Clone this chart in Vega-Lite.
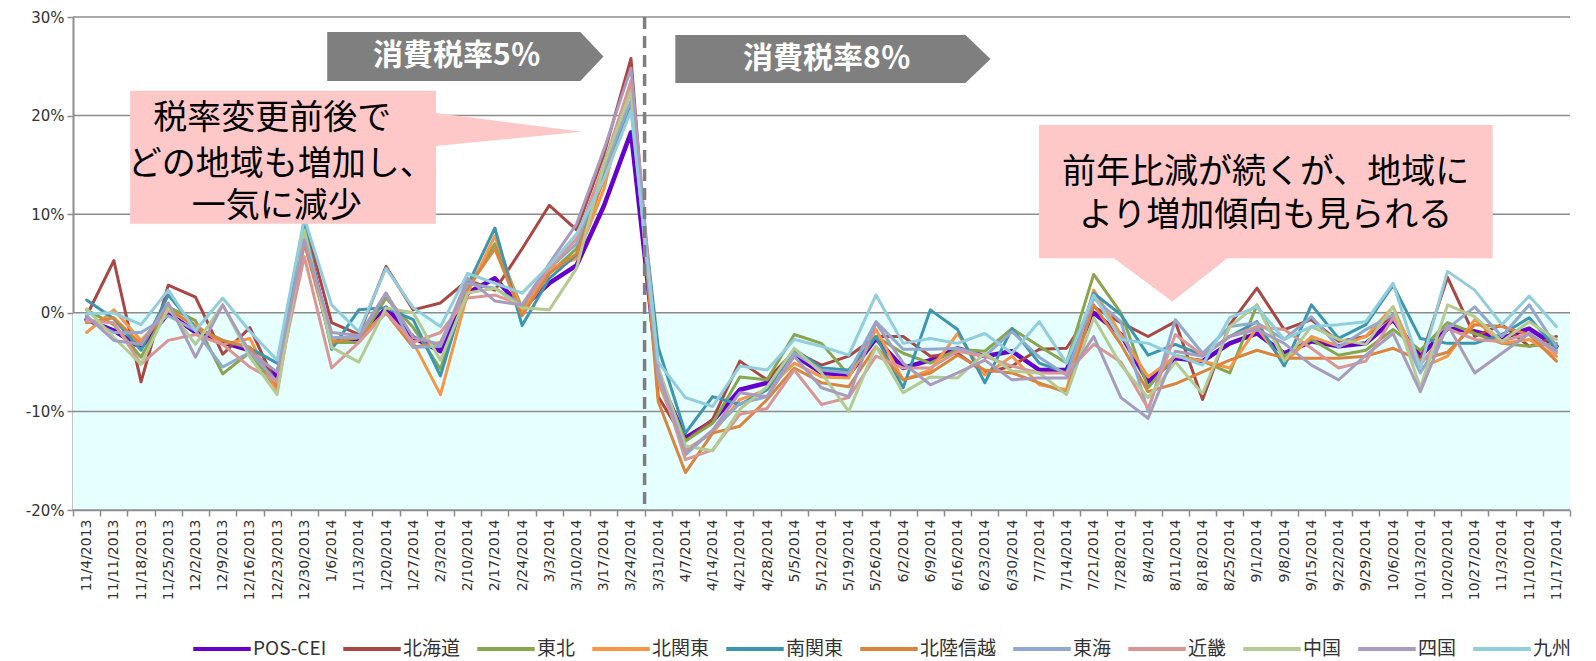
{
"$schema": "https://vega.github.io/schema/vega-lite/v6.json",
"autosize": "none",
"width": 1497,
"height": 493,
"padding": {"left": 73, "top": 17, "right": 26, "bottom": 151},
"background": "white",
"config": {"view": {"stroke": null}},
"datasets": {
"main": [
{"w":"11/4/2013","s":"POS-CEI","v":-0.7},{"w":"11/11/2013","s":"POS-CEI","v":-1.8},{"w":"11/18/2013","s":"POS-CEI","v":-3.5},{"w":"11/25/2013","s":"POS-CEI","v":0.0},{"w":"12/2/2013","s":"POS-CEI","v":-2.0},{"w":"12/9/2013","s":"POS-CEI","v":-3.0},{"w":"12/16/2013","s":"POS-CEI","v":-3.8},{"w":"12/23/2013","s":"POS-CEI","v":-6.5},{"w":"12/30/2013","s":"POS-CEI","v":8.0},{"w":"1/6/2014","s":"POS-CEI","v":-3.0},{"w":"1/13/2014","s":"POS-CEI","v":-2.8},{"w":"1/20/2014","s":"POS-CEI","v":0.5},{"w":"1/27/2014","s":"POS-CEI","v":-2.5},{"w":"2/3/2014","s":"POS-CEI","v":-3.9},{"w":"2/10/2014","s":"POS-CEI","v":2.0},{"w":"2/17/2014","s":"POS-CEI","v":3.5},{"w":"2/24/2014","s":"POS-CEI","v":0.5},{"w":"3/3/2014","s":"POS-CEI","v":3.0},{"w":"3/10/2014","s":"POS-CEI","v":4.8},{"w":"3/17/2014","s":"POS-CEI","v":10.8},{"w":"3/24/2014","s":"POS-CEI","v":18.3},{"w":"3/31/2014","s":"POS-CEI","v":-6.5},{"w":"4/7/2014","s":"POS-CEI","v":-12.7},{"w":"4/14/2014","s":"POS-CEI","v":-11.0},{"w":"4/21/2014","s":"POS-CEI","v":-7.8},{"w":"4/28/2014","s":"POS-CEI","v":-7.1},{"w":"5/5/2014","s":"POS-CEI","v":-4.3},{"w":"5/12/2014","s":"POS-CEI","v":-6.1},{"w":"5/19/2014","s":"POS-CEI","v":-6.3},{"w":"5/26/2014","s":"POS-CEI","v":-2.6},{"w":"6/2/2014","s":"POS-CEI","v":-5.6},{"w":"6/9/2014","s":"POS-CEI","v":-4.8},{"w":"6/16/2014","s":"POS-CEI","v":-3.6},{"w":"6/23/2014","s":"POS-CEI","v":-4.4},{"w":"6/30/2014","s":"POS-CEI","v":-3.9},{"w":"7/7/2014","s":"POS-CEI","v":-5.8},{"w":"7/14/2014","s":"POS-CEI","v":-5.8},{"w":"7/21/2014","s":"POS-CEI","v":0.0},{"w":"7/28/2014","s":"POS-CEI","v":-2.2},{"w":"8/4/2014","s":"POS-CEI","v":-7.0},{"w":"8/11/2014","s":"POS-CEI","v":-4.6},{"w":"8/18/2014","s":"POS-CEI","v":-4.9},{"w":"8/25/2014","s":"POS-CEI","v":-3.1},{"w":"9/1/2014","s":"POS-CEI","v":-2.1},{"w":"9/8/2014","s":"POS-CEI","v":-4.1},{"w":"9/15/2014","s":"POS-CEI","v":-2.9},{"w":"9/22/2014","s":"POS-CEI","v":-3.4},{"w":"9/29/2014","s":"POS-CEI","v":-3.1},{"w":"10/6/2014","s":"POS-CEI","v":-0.7},{"w":"10/13/2014","s":"POS-CEI","v":-4.4},{"w":"10/20/2014","s":"POS-CEI","v":-1.6},{"w":"10/27/2014","s":"POS-CEI","v":-1.9},{"w":"11/3/2014","s":"POS-CEI","v":-2.6},{"w":"11/10/2014","s":"POS-CEI","v":-1.6},{"w":"11/17/2014","s":"POS-CEI","v":-3.4},
{"w":"11/4/2013","s":"北海道","v":-0.3},{"w":"11/11/2013","s":"北海道","v":5.3},{"w":"11/18/2013","s":"北海道","v":-7.0},{"w":"11/25/2013","s":"北海道","v":2.8},{"w":"12/2/2013","s":"北海道","v":1.6},{"w":"12/9/2013","s":"北海道","v":-4.2},{"w":"12/16/2013","s":"北海道","v":-1.5},{"w":"12/23/2013","s":"北海道","v":-7.5},{"w":"12/30/2013","s":"北海道","v":9.4},{"w":"1/6/2014","s":"北海道","v":-1.0},{"w":"1/13/2014","s":"北海道","v":-2.2},{"w":"1/20/2014","s":"北海道","v":4.7},{"w":"1/27/2014","s":"北海道","v":0.3},{"w":"2/3/2014","s":"北海道","v":1.0},{"w":"2/10/2014","s":"北海道","v":3.3},{"w":"2/17/2014","s":"北海道","v":2.3},{"w":"2/24/2014","s":"北海道","v":6.5},{"w":"3/3/2014","s":"北海道","v":10.9},{"w":"3/10/2014","s":"北海道","v":8.4},{"w":"3/17/2014","s":"北海道","v":16.0},{"w":"3/24/2014","s":"北海道","v":25.8},{"w":"3/31/2014","s":"北海道","v":-8.5},{"w":"4/7/2014","s":"北海道","v":-13.0},{"w":"4/14/2014","s":"北海道","v":-10.8},{"w":"4/21/2014","s":"北海道","v":-4.9},{"w":"4/28/2014","s":"北海道","v":-6.8},{"w":"5/5/2014","s":"北海道","v":-3.9},{"w":"5/12/2014","s":"北海道","v":-5.3},{"w":"5/19/2014","s":"北海道","v":-4.4},{"w":"5/26/2014","s":"北海道","v":-2.4},{"w":"6/2/2014","s":"北海道","v":-2.4},{"w":"6/9/2014","s":"北海道","v":-4.4},{"w":"6/16/2014","s":"北海道","v":-4.1},{"w":"6/23/2014","s":"北海道","v":-6.1},{"w":"6/30/2014","s":"北海道","v":-5.4},{"w":"7/7/2014","s":"北海道","v":-3.7},{"w":"7/14/2014","s":"北海道","v":-3.6},{"w":"7/21/2014","s":"北海道","v":0.6},{"w":"7/28/2014","s":"北海道","v":-1.0},{"w":"8/4/2014","s":"北海道","v":-2.4},{"w":"8/11/2014","s":"北海道","v":-0.9},{"w":"8/18/2014","s":"北海道","v":-8.8},{"w":"8/25/2014","s":"北海道","v":-1.2},{"w":"9/1/2014","s":"北海道","v":2.5},{"w":"9/8/2014","s":"北海道","v":-1.7},{"w":"9/15/2014","s":"北海道","v":-0.7},{"w":"9/22/2014","s":"北海道","v":-2.9},{"w":"9/29/2014","s":"北海道","v":-2.4},{"w":"10/6/2014","s":"北海道","v":-0.2},{"w":"10/13/2014","s":"北海道","v":-4.8},{"w":"10/20/2014","s":"北海道","v":3.6},{"w":"10/27/2014","s":"北海道","v":-2.4},{"w":"11/3/2014","s":"北海道","v":-1.2},{"w":"11/10/2014","s":"北海道","v":-3.4},{"w":"11/17/2014","s":"北海道","v":-2.4},
{"w":"11/4/2013","s":"東北","v":0.3},{"w":"11/11/2013","s":"東北","v":-1.2},{"w":"11/18/2013","s":"東北","v":-4.5},{"w":"11/25/2013","s":"東北","v":0.6},{"w":"12/2/2013","s":"東北","v":-0.8},{"w":"12/9/2013","s":"東北","v":-6.2},{"w":"12/16/2013","s":"東北","v":-4.0},{"w":"12/23/2013","s":"東北","v":-7.8},{"w":"12/30/2013","s":"東北","v":8.0},{"w":"1/6/2014","s":"東北","v":-3.0},{"w":"1/13/2014","s":"東北","v":-3.0},{"w":"1/20/2014","s":"東北","v":1.5},{"w":"1/27/2014","s":"東北","v":-1.5},{"w":"2/3/2014","s":"東北","v":-5.7},{"w":"2/10/2014","s":"東北","v":2.5},{"w":"2/17/2014","s":"東北","v":7.0},{"w":"2/24/2014","s":"東北","v":0.5},{"w":"3/3/2014","s":"東北","v":4.0},{"w":"3/10/2014","s":"東北","v":6.5},{"w":"3/17/2014","s":"東北","v":15.0},{"w":"3/24/2014","s":"東北","v":22.5},{"w":"3/31/2014","s":"東北","v":-6.0},{"w":"4/7/2014","s":"東北","v":-13.0},{"w":"4/14/2014","s":"東北","v":-11.2},{"w":"4/21/2014","s":"東北","v":-6.5},{"w":"4/28/2014","s":"東北","v":-6.8},{"w":"5/5/2014","s":"東北","v":-2.2},{"w":"5/12/2014","s":"東北","v":-3.1},{"w":"5/19/2014","s":"東北","v":-6.3},{"w":"5/26/2014","s":"東北","v":-2.4},{"w":"6/2/2014","s":"東北","v":-4.1},{"w":"6/9/2014","s":"東北","v":-5.1},{"w":"6/16/2014","s":"東北","v":-3.7},{"w":"6/23/2014","s":"東北","v":-3.9},{"w":"6/30/2014","s":"東北","v":-1.6},{"w":"7/7/2014","s":"東北","v":-3.4},{"w":"7/14/2014","s":"東北","v":-5.1},{"w":"7/21/2014","s":"東北","v":3.9},{"w":"7/28/2014","s":"東北","v":0.0},{"w":"8/4/2014","s":"東北","v":-7.6},{"w":"8/11/2014","s":"東北","v":-4.3},{"w":"8/18/2014","s":"東北","v":-4.9},{"w":"8/25/2014","s":"東北","v":-6.1},{"w":"9/1/2014","s":"東北","v":0.8},{"w":"9/8/2014","s":"東北","v":-4.4},{"w":"9/15/2014","s":"東北","v":-2.7},{"w":"9/22/2014","s":"東北","v":-4.3},{"w":"9/29/2014","s":"東北","v":-3.8},{"w":"10/6/2014","s":"東北","v":-1.7},{"w":"10/13/2014","s":"東北","v":-3.8},{"w":"10/20/2014","s":"東北","v":-1.0},{"w":"10/27/2014","s":"東北","v":-2.1},{"w":"11/3/2014","s":"東北","v":-3.1},{"w":"11/10/2014","s":"東北","v":-3.4},{"w":"11/17/2014","s":"東北","v":-3.1},
{"w":"11/4/2013","s":"北関東","v":-2.0},{"w":"11/11/2013","s":"北関東","v":0.3},{"w":"11/18/2013","s":"北関東","v":-2.8},{"w":"11/25/2013","s":"北関東","v":0.2},{"w":"12/2/2013","s":"北関東","v":-1.2},{"w":"12/9/2013","s":"北関東","v":-3.2},{"w":"12/16/2013","s":"北関東","v":-2.6},{"w":"12/23/2013","s":"北関東","v":-8.0},{"w":"12/30/2013","s":"北関東","v":7.5},{"w":"1/6/2014","s":"北関東","v":-2.8},{"w":"1/13/2014","s":"北関東","v":-2.5},{"w":"1/20/2014","s":"北関東","v":0.0},{"w":"1/27/2014","s":"北関東","v":-3.0},{"w":"2/3/2014","s":"北関東","v":-8.3},{"w":"2/10/2014","s":"北関東","v":2.0},{"w":"2/17/2014","s":"北関東","v":7.8},{"w":"2/24/2014","s":"北関東","v":0.0},{"w":"3/3/2014","s":"北関東","v":4.5},{"w":"3/10/2014","s":"北関東","v":5.5},{"w":"3/17/2014","s":"北関東","v":12.5},{"w":"3/24/2014","s":"北関東","v":23.5},{"w":"3/31/2014","s":"北関東","v":-7.0},{"w":"4/7/2014","s":"北関東","v":-13.9},{"w":"4/14/2014","s":"北関東","v":-12.2},{"w":"4/21/2014","s":"北関東","v":-8.8},{"w":"4/28/2014","s":"北関東","v":-7.8},{"w":"5/5/2014","s":"北関東","v":-5.1},{"w":"5/12/2014","s":"北関東","v":-6.5},{"w":"5/19/2014","s":"北関東","v":-6.6},{"w":"5/26/2014","s":"北関東","v":-1.7},{"w":"6/2/2014","s":"北関東","v":-6.8},{"w":"6/9/2014","s":"北関東","v":-5.8},{"w":"6/16/2014","s":"北関東","v":-2.1},{"w":"6/23/2014","s":"北関東","v":-6.3},{"w":"6/30/2014","s":"北関東","v":-4.4},{"w":"7/7/2014","s":"北関東","v":-7.3},{"w":"7/14/2014","s":"北関東","v":-7.8},{"w":"7/21/2014","s":"北関東","v":2.3},{"w":"7/28/2014","s":"北関東","v":-2.2},{"w":"8/4/2014","s":"北関東","v":-6.5},{"w":"8/11/2014","s":"北関東","v":-4.4},{"w":"8/18/2014","s":"北関東","v":-4.9},{"w":"8/25/2014","s":"北関東","v":-5.6},{"w":"9/1/2014","s":"北関東","v":-1.5},{"w":"9/8/2014","s":"北関東","v":-5.1},{"w":"9/15/2014","s":"北関東","v":-2.4},{"w":"9/22/2014","s":"北関東","v":-3.4},{"w":"9/29/2014","s":"北関東","v":-2.4},{"w":"10/6/2014","s":"北関東","v":0.6},{"w":"10/13/2014","s":"北関東","v":-5.6},{"w":"10/20/2014","s":"北関東","v":-4.4},{"w":"10/27/2014","s":"北関東","v":-0.7},{"w":"11/3/2014","s":"北関東","v":-3.1},{"w":"11/10/2014","s":"北関東","v":-2.7},{"w":"11/17/2014","s":"北関東","v":-4.4},
{"w":"11/4/2013","s":"南関東","v":1.3},{"w":"11/11/2013","s":"南関東","v":-0.6},{"w":"11/18/2013","s":"南関東","v":-3.8},{"w":"11/25/2013","s":"南関東","v":1.8},{"w":"12/2/2013","s":"南関東","v":-1.5},{"w":"12/9/2013","s":"南関東","v":-2.8},{"w":"12/16/2013","s":"南関東","v":-3.6},{"w":"12/23/2013","s":"南関東","v":-5.1},{"w":"12/30/2013","s":"南関東","v":9.0},{"w":"1/6/2014","s":"南関東","v":-3.7},{"w":"1/13/2014","s":"南関東","v":0.3},{"w":"1/20/2014","s":"南関東","v":0.5},{"w":"1/27/2014","s":"南関東","v":-0.7},{"w":"2/3/2014","s":"南関東","v":-6.4},{"w":"2/10/2014","s":"南関東","v":2.8},{"w":"2/17/2014","s":"南関東","v":8.6},{"w":"2/24/2014","s":"南関東","v":-1.3},{"w":"3/3/2014","s":"南関東","v":3.5},{"w":"3/10/2014","s":"南関東","v":5.9},{"w":"3/17/2014","s":"南関東","v":14.0},{"w":"3/24/2014","s":"南関東","v":21.0},{"w":"3/31/2014","s":"南関東","v":-3.5},{"w":"4/7/2014","s":"南関東","v":-12.2},{"w":"4/14/2014","s":"南関東","v":-8.5},{"w":"4/21/2014","s":"南関東","v":-9.3},{"w":"4/28/2014","s":"南関東","v":-7.8},{"w":"5/5/2014","s":"南関東","v":-3.7},{"w":"5/12/2014","s":"南関東","v":-5.6},{"w":"5/19/2014","s":"南関東","v":-5.8},{"w":"5/26/2014","s":"南関東","v":-2.4},{"w":"6/2/2014","s":"南関東","v":-7.6},{"w":"6/9/2014","s":"南関東","v":0.3},{"w":"6/16/2014","s":"南関東","v":-1.7},{"w":"6/23/2014","s":"南関東","v":-7.1},{"w":"6/30/2014","s":"南関東","v":-1.6},{"w":"7/7/2014","s":"南関東","v":-5.1},{"w":"7/14/2014","s":"南関東","v":-6.1},{"w":"7/21/2014","s":"南関東","v":2.0},{"w":"7/28/2014","s":"南関東","v":-0.2},{"w":"8/4/2014","s":"南関東","v":-4.3},{"w":"8/11/2014","s":"南関東","v":-3.2},{"w":"8/18/2014","s":"南関東","v":-4.3},{"w":"8/25/2014","s":"南関東","v":-2.4},{"w":"9/1/2014","s":"南関東","v":-0.9},{"w":"9/8/2014","s":"南関東","v":-5.4},{"w":"9/15/2014","s":"南関東","v":0.8},{"w":"9/22/2014","s":"南関東","v":-2.6},{"w":"9/29/2014","s":"南関東","v":-1.2},{"w":"10/6/2014","s":"南関東","v":2.8},{"w":"10/13/2014","s":"南関東","v":-2.6},{"w":"10/20/2014","s":"南関東","v":-3.1},{"w":"10/27/2014","s":"南関東","v":-3.1},{"w":"11/3/2014","s":"南関東","v":-2.2},{"w":"11/10/2014","s":"南関東","v":-0.5},{"w":"11/17/2014","s":"南関東","v":-3.6},
{"w":"11/4/2013","s":"北陸信越","v":-1.0},{"w":"11/11/2013","s":"北陸信越","v":-0.5},{"w":"11/18/2013","s":"北陸信越","v":-3.2},{"w":"11/25/2013","s":"北陸信越","v":0.5},{"w":"12/2/2013","s":"北陸信越","v":-1.5},{"w":"12/9/2013","s":"北陸信越","v":-2.8},{"w":"12/16/2013","s":"北陸信越","v":-3.5},{"w":"12/23/2013","s":"北陸信越","v":-7.5},{"w":"12/30/2013","s":"北陸信越","v":7.0},{"w":"1/6/2014","s":"北陸信越","v":-3.0},{"w":"1/13/2014","s":"北陸信越","v":-2.5},{"w":"1/20/2014","s":"北陸信越","v":0.0},{"w":"1/27/2014","s":"北陸信越","v":-3.5},{"w":"2/3/2014","s":"北陸信越","v":-3.0},{"w":"2/10/2014","s":"北陸信越","v":2.5},{"w":"2/17/2014","s":"北陸信越","v":6.5},{"w":"2/24/2014","s":"北陸信越","v":-0.3},{"w":"3/3/2014","s":"北陸信越","v":4.0},{"w":"3/10/2014","s":"北陸信越","v":6.0},{"w":"3/17/2014","s":"北陸信越","v":13.5},{"w":"3/24/2014","s":"北陸信越","v":23.0},{"w":"3/31/2014","s":"北陸信越","v":-9.0},{"w":"4/7/2014","s":"北陸信越","v":-16.2},{"w":"4/14/2014","s":"北陸信越","v":-12.2},{"w":"4/21/2014","s":"北陸信越","v":-11.5},{"w":"4/28/2014","s":"北陸信越","v":-8.8},{"w":"5/5/2014","s":"北陸信越","v":-5.6},{"w":"5/12/2014","s":"北陸信越","v":-7.1},{"w":"5/19/2014","s":"北陸信越","v":-7.5},{"w":"5/26/2014","s":"北陸信越","v":-3.4},{"w":"6/2/2014","s":"北陸信越","v":-6.8},{"w":"6/9/2014","s":"北陸信越","v":-6.1},{"w":"6/16/2014","s":"北陸信越","v":-4.3},{"w":"6/23/2014","s":"北陸信越","v":-5.8},{"w":"6/30/2014","s":"北陸信越","v":-6.1},{"w":"7/7/2014","s":"北陸信越","v":-7.1},{"w":"7/14/2014","s":"北陸信越","v":-8.1},{"w":"7/21/2014","s":"北陸信越","v":0.8},{"w":"7/28/2014","s":"北陸信越","v":-3.2},{"w":"8/4/2014","s":"北陸信越","v":-8.0},{"w":"8/11/2014","s":"北陸信越","v":-7.2},{"w":"8/18/2014","s":"北陸信越","v":-6.0},{"w":"8/25/2014","s":"北陸信越","v":-4.8},{"w":"9/1/2014","s":"北陸信越","v":-3.8},{"w":"9/8/2014","s":"北陸信越","v":-4.6},{"w":"9/15/2014","s":"北陸信越","v":-4.6},{"w":"9/22/2014","s":"北陸信越","v":-4.6},{"w":"9/29/2014","s":"北陸信越","v":-4.4},{"w":"10/6/2014","s":"北陸信越","v":-3.6},{"w":"10/13/2014","s":"北陸信越","v":-4.8},{"w":"10/20/2014","s":"北陸信越","v":-4.0},{"w":"10/27/2014","s":"北陸信越","v":-1.2},{"w":"11/3/2014","s":"北陸信越","v":-1.4},{"w":"11/10/2014","s":"北陸信越","v":-2.2},{"w":"11/17/2014","s":"北陸信越","v":-4.9},
{"w":"11/4/2013","s":"東海","v":-0.6},{"w":"11/11/2013","s":"東海","v":-2.0},{"w":"11/18/2013","s":"東海","v":-2.0},{"w":"11/25/2013","s":"東海","v":-0.3},{"w":"12/2/2013","s":"東海","v":-1.8},{"w":"12/9/2013","s":"東海","v":-5.5},{"w":"12/16/2013","s":"東海","v":-4.0},{"w":"12/23/2013","s":"東海","v":-7.0},{"w":"12/30/2013","s":"東海","v":7.5},{"w":"1/6/2014","s":"東海","v":-2.5},{"w":"1/13/2014","s":"東海","v":-2.5},{"w":"1/20/2014","s":"東海","v":2.0},{"w":"1/27/2014","s":"東海","v":-3.5},{"w":"2/3/2014","s":"東海","v":-3.4},{"w":"2/10/2014","s":"東海","v":3.0},{"w":"2/17/2014","s":"東海","v":2.5},{"w":"2/24/2014","s":"東海","v":0.8},{"w":"3/3/2014","s":"東海","v":4.5},{"w":"3/10/2014","s":"東海","v":7.0},{"w":"3/17/2014","s":"東海","v":14.5},{"w":"3/24/2014","s":"東海","v":21.5},{"w":"3/31/2014","s":"東海","v":-6.5},{"w":"4/7/2014","s":"東海","v":-14.4},{"w":"4/14/2014","s":"東海","v":-11.9},{"w":"4/21/2014","s":"東海","v":-9.2},{"w":"4/28/2014","s":"東海","v":-8.5},{"w":"5/5/2014","s":"東海","v":-4.1},{"w":"5/12/2014","s":"東海","v":-5.8},{"w":"5/19/2014","s":"東海","v":-6.1},{"w":"5/26/2014","s":"東海","v":-0.9},{"w":"6/2/2014","s":"東海","v":-3.7},{"w":"6/9/2014","s":"東海","v":-3.7},{"w":"6/16/2014","s":"東海","v":-3.6},{"w":"6/23/2014","s":"東海","v":-4.4},{"w":"6/30/2014","s":"東海","v":-1.9},{"w":"7/7/2014","s":"東海","v":-4.5},{"w":"7/14/2014","s":"東海","v":-6.3},{"w":"7/21/2014","s":"東海","v":1.5},{"w":"7/28/2014","s":"東海","v":-0.9},{"w":"8/4/2014","s":"東海","v":-10.0},{"w":"8/11/2014","s":"東海","v":-0.7},{"w":"8/18/2014","s":"東海","v":-4.1},{"w":"8/25/2014","s":"東海","v":-1.4},{"w":"9/1/2014","s":"東海","v":-1.0},{"w":"9/8/2014","s":"東海","v":-2.7},{"w":"9/15/2014","s":"東海","v":-0.4},{"w":"9/22/2014","s":"東海","v":-3.5},{"w":"9/29/2014","s":"東海","v":-1.7},{"w":"10/6/2014","s":"東海","v":-0.2},{"w":"10/13/2014","s":"東海","v":-6.1},{"w":"10/20/2014","s":"東海","v":-1.6},{"w":"10/27/2014","s":"東海","v":0.6},{"w":"11/3/2014","s":"東海","v":-2.4},{"w":"11/10/2014","s":"東海","v":0.8},{"w":"11/17/2014","s":"東海","v":-3.4},
{"w":"11/4/2013","s":"近畿","v":-0.8},{"w":"11/11/2013","s":"近畿","v":-1.0},{"w":"11/18/2013","s":"近畿","v":-5.2},{"w":"11/25/2013","s":"近畿","v":-2.8},{"w":"12/2/2013","s":"近畿","v":-2.2},{"w":"12/9/2013","s":"近畿","v":-3.2},{"w":"12/16/2013","s":"近畿","v":-5.5},{"w":"12/23/2013","s":"近畿","v":-7.0},{"w":"12/30/2013","s":"近畿","v":5.7},{"w":"1/6/2014","s":"近畿","v":-5.6},{"w":"1/13/2014","s":"近畿","v":-3.0},{"w":"1/20/2014","s":"近畿","v":0.0},{"w":"1/27/2014","s":"近畿","v":-3.0},{"w":"2/3/2014","s":"近畿","v":-2.0},{"w":"2/10/2014","s":"近畿","v":1.5},{"w":"2/17/2014","s":"近畿","v":1.8},{"w":"2/24/2014","s":"近畿","v":0.8},{"w":"3/3/2014","s":"近畿","v":4.5},{"w":"3/10/2014","s":"近畿","v":7.5},{"w":"3/17/2014","s":"近畿","v":15.0},{"w":"3/24/2014","s":"近畿","v":23.5},{"w":"3/31/2014","s":"近畿","v":-6.0},{"w":"4/7/2014","s":"近畿","v":-14.9},{"w":"4/14/2014","s":"近畿","v":-13.9},{"w":"4/21/2014","s":"近畿","v":-10.3},{"w":"4/28/2014","s":"近畿","v":-9.7},{"w":"5/5/2014","s":"近畿","v":-5.8},{"w":"5/12/2014","s":"近畿","v":-9.3},{"w":"5/19/2014","s":"近畿","v":-8.6},{"w":"5/26/2014","s":"近畿","v":-4.4},{"w":"6/2/2014","s":"近畿","v":-5.6},{"w":"6/9/2014","s":"近畿","v":-5.6},{"w":"6/16/2014","s":"近畿","v":-3.9},{"w":"6/23/2014","s":"近畿","v":-4.4},{"w":"6/30/2014","s":"近畿","v":-5.4},{"w":"7/7/2014","s":"近畿","v":-6.1},{"w":"7/14/2014","s":"近畿","v":-6.1},{"w":"7/21/2014","s":"近畿","v":-3.2},{"w":"7/28/2014","s":"近畿","v":-5.0},{"w":"8/4/2014","s":"近畿","v":-9.7},{"w":"8/11/2014","s":"近畿","v":-2.2},{"w":"8/18/2014","s":"近畿","v":-4.3},{"w":"8/25/2014","s":"近畿","v":-2.4},{"w":"9/1/2014","s":"近畿","v":-1.4},{"w":"9/8/2014","s":"近畿","v":-1.7},{"w":"9/15/2014","s":"近畿","v":-3.6},{"w":"9/22/2014","s":"近畿","v":-5.6},{"w":"9/29/2014","s":"近畿","v":-4.9},{"w":"10/6/2014","s":"近畿","v":-0.5},{"w":"10/13/2014","s":"近畿","v":-5.3},{"w":"10/20/2014","s":"近畿","v":-1.6},{"w":"10/27/2014","s":"近畿","v":-2.7},{"w":"11/3/2014","s":"近畿","v":-2.9},{"w":"11/10/2014","s":"近畿","v":-2.1},{"w":"11/17/2014","s":"近畿","v":-4.1},
{"w":"11/4/2013","s":"中国","v":0.4},{"w":"11/11/2013","s":"中国","v":-2.5},{"w":"11/18/2013","s":"中国","v":-5.2},{"w":"11/25/2013","s":"中国","v":0.5},{"w":"12/2/2013","s":"中国","v":-3.2},{"w":"12/9/2013","s":"中国","v":0.8},{"w":"12/16/2013","s":"中国","v":-4.5},{"w":"12/23/2013","s":"中国","v":-8.3},{"w":"12/30/2013","s":"中国","v":8.4},{"w":"1/6/2014","s":"中国","v":-3.5},{"w":"1/13/2014","s":"中国","v":-5.0},{"w":"1/20/2014","s":"中国","v":0.5},{"w":"1/27/2014","s":"中国","v":0.0},{"w":"2/3/2014","s":"中国","v":-4.8},{"w":"2/10/2014","s":"中国","v":2.0},{"w":"2/17/2014","s":"中国","v":2.5},{"w":"2/24/2014","s":"中国","v":0.5},{"w":"3/3/2014","s":"中国","v":0.3},{"w":"3/10/2014","s":"中国","v":4.5},{"w":"3/17/2014","s":"中国","v":15.0},{"w":"3/24/2014","s":"中国","v":22.5},{"w":"3/31/2014","s":"中国","v":-5.5},{"w":"4/7/2014","s":"中国","v":-13.5},{"w":"4/14/2014","s":"中国","v":-14.0},{"w":"4/21/2014","s":"中国","v":-9.8},{"w":"4/28/2014","s":"中国","v":-7.5},{"w":"5/5/2014","s":"中国","v":-3.6},{"w":"5/12/2014","s":"中国","v":-6.1},{"w":"5/19/2014","s":"中国","v":-10.0},{"w":"5/26/2014","s":"中国","v":-3.4},{"w":"6/2/2014","s":"中国","v":-8.1},{"w":"6/9/2014","s":"中国","v":-6.5},{"w":"6/16/2014","s":"中国","v":-6.6},{"w":"6/23/2014","s":"中国","v":-4.1},{"w":"6/30/2014","s":"中国","v":-5.9},{"w":"7/7/2014","s":"中国","v":-6.1},{"w":"7/14/2014","s":"中国","v":-8.3},{"w":"7/21/2014","s":"中国","v":-0.5},{"w":"7/28/2014","s":"中国","v":-5.3},{"w":"8/4/2014","s":"中国","v":-8.6},{"w":"8/11/2014","s":"中国","v":-5.0},{"w":"8/18/2014","s":"中国","v":-8.2},{"w":"8/25/2014","s":"中国","v":-1.4},{"w":"9/1/2014","s":"中国","v":0.8},{"w":"9/8/2014","s":"中国","v":-4.9},{"w":"9/15/2014","s":"中国","v":-1.4},{"w":"9/22/2014","s":"中国","v":-2.7},{"w":"9/29/2014","s":"中国","v":-3.2},{"w":"10/6/2014","s":"中国","v":0.6},{"w":"10/13/2014","s":"中国","v":-7.6},{"w":"10/20/2014","s":"中国","v":0.8},{"w":"10/27/2014","s":"中国","v":-0.4},{"w":"11/3/2014","s":"中国","v":-2.9},{"w":"11/10/2014","s":"中国","v":-0.9},{"w":"11/17/2014","s":"中国","v":-2.7},
{"w":"11/4/2013","s":"四国","v":-0.3},{"w":"11/11/2013","s":"四国","v":-2.8},{"w":"11/18/2013","s":"四国","v":-3.2},{"w":"11/25/2013","s":"四国","v":1.0},{"w":"12/2/2013","s":"四国","v":-4.5},{"w":"12/9/2013","s":"四国","v":0.8},{"w":"12/16/2013","s":"四国","v":-4.0},{"w":"12/23/2013","s":"四国","v":-6.0},{"w":"12/30/2013","s":"四国","v":7.4},{"w":"1/6/2014","s":"四国","v":-2.0},{"w":"1/13/2014","s":"四国","v":-2.3},{"w":"1/20/2014","s":"四国","v":2.0},{"w":"1/27/2014","s":"四国","v":-2.5},{"w":"2/3/2014","s":"四国","v":-3.2},{"w":"2/10/2014","s":"四国","v":3.5},{"w":"2/17/2014","s":"四国","v":1.2},{"w":"2/24/2014","s":"四国","v":0.8},{"w":"3/3/2014","s":"四国","v":5.0},{"w":"3/10/2014","s":"四国","v":9.0},{"w":"3/17/2014","s":"四国","v":16.5},{"w":"3/24/2014","s":"四国","v":24.8},{"w":"3/31/2014","s":"四国","v":-6.0},{"w":"4/7/2014","s":"四国","v":-14.2},{"w":"4/14/2014","s":"四国","v":-11.9},{"w":"4/21/2014","s":"四国","v":-8.1},{"w":"4/28/2014","s":"四国","v":-8.5},{"w":"5/5/2014","s":"四国","v":-4.4},{"w":"5/12/2014","s":"四国","v":-7.6},{"w":"5/19/2014","s":"四国","v":-8.5},{"w":"5/26/2014","s":"四国","v":-1.0},{"w":"6/2/2014","s":"四国","v":-5.1},{"w":"6/9/2014","s":"四国","v":-7.3},{"w":"6/16/2014","s":"四国","v":-6.1},{"w":"6/23/2014","s":"四国","v":-4.8},{"w":"6/30/2014","s":"四国","v":-6.8},{"w":"7/7/2014","s":"四国","v":-6.6},{"w":"7/14/2014","s":"四国","v":-6.6},{"w":"7/21/2014","s":"四国","v":-2.4},{"w":"7/28/2014","s":"四国","v":-8.6},{"w":"8/4/2014","s":"四国","v":-10.7},{"w":"8/11/2014","s":"四国","v":-3.9},{"w":"8/18/2014","s":"四国","v":-4.4},{"w":"8/25/2014","s":"四国","v":-2.4},{"w":"9/1/2014","s":"四国","v":-1.7},{"w":"9/8/2014","s":"四国","v":-3.1},{"w":"9/15/2014","s":"四国","v":-5.3},{"w":"9/22/2014","s":"四国","v":-6.8},{"w":"9/29/2014","s":"四国","v":-4.3},{"w":"10/6/2014","s":"四国","v":-2.1},{"w":"10/13/2014","s":"四国","v":-8.0},{"w":"10/20/2014","s":"四国","v":-1.2},{"w":"10/27/2014","s":"四国","v":-6.1},{"w":"11/3/2014","s":"四国","v":-4.1},{"w":"11/10/2014","s":"四国","v":-2.1},{"w":"11/17/2014","s":"四国","v":-3.9},
{"w":"11/4/2013","s":"九州","v":-0.1},{"w":"11/11/2013","s":"九州","v":0.0},{"w":"11/18/2013","s":"九州","v":-1.2},{"w":"11/25/2013","s":"九州","v":2.3},{"w":"12/2/2013","s":"九州","v":-1.8},{"w":"12/9/2013","s":"九州","v":1.5},{"w":"12/16/2013","s":"九州","v":-1.9},{"w":"12/23/2013","s":"九州","v":-4.8},{"w":"12/30/2013","s":"九州","v":9.6},{"w":"1/6/2014","s":"九州","v":0.8},{"w":"1/13/2014","s":"九州","v":-1.9},{"w":"1/20/2014","s":"九州","v":4.5},{"w":"1/27/2014","s":"九州","v":0.5},{"w":"2/3/2014","s":"九州","v":-1.4},{"w":"2/10/2014","s":"九州","v":4.0},{"w":"2/17/2014","s":"九州","v":3.0},{"w":"2/24/2014","s":"九州","v":2.0},{"w":"3/3/2014","s":"九州","v":4.8},{"w":"3/10/2014","s":"九州","v":8.0},{"w":"3/17/2014","s":"九州","v":13.5},{"w":"3/24/2014","s":"九州","v":20.5},{"w":"3/31/2014","s":"九州","v":-5.0},{"w":"4/7/2014","s":"九州","v":-8.6},{"w":"4/14/2014","s":"九州","v":-9.5},{"w":"4/21/2014","s":"九州","v":-5.4},{"w":"4/28/2014","s":"九州","v":-5.8},{"w":"5/5/2014","s":"九州","v":-2.7},{"w":"5/12/2014","s":"九州","v":-3.4},{"w":"5/19/2014","s":"九州","v":-4.3},{"w":"5/26/2014","s":"九州","v":1.8},{"w":"6/2/2014","s":"九州","v":-3.1},{"w":"6/9/2014","s":"九州","v":-2.6},{"w":"6/16/2014","s":"九州","v":-3.1},{"w":"6/23/2014","s":"九州","v":-2.1},{"w":"6/30/2014","s":"九州","v":-4.1},{"w":"7/7/2014","s":"九州","v":-0.9},{"w":"7/14/2014","s":"九州","v":-5.1},{"w":"7/21/2014","s":"九州","v":1.8},{"w":"7/28/2014","s":"九州","v":-2.7},{"w":"8/4/2014","s":"九州","v":-3.1},{"w":"8/11/2014","s":"九州","v":-4.3},{"w":"8/18/2014","s":"九州","v":-5.3},{"w":"8/25/2014","s":"九州","v":-0.5},{"w":"9/1/2014","s":"九州","v":0.6},{"w":"9/8/2014","s":"九州","v":-2.7},{"w":"9/15/2014","s":"九州","v":-1.4},{"w":"9/22/2014","s":"九州","v":-1.2},{"w":"9/29/2014","s":"九州","v":-0.9},{"w":"10/6/2014","s":"九州","v":3.0},{"w":"10/13/2014","s":"九州","v":-5.6},{"w":"10/20/2014","s":"九州","v":4.2},{"w":"10/27/2014","s":"九州","v":2.3},{"w":"11/3/2014","s":"九州","v":-1.2},{"w":"11/10/2014","s":"九州","v":1.7},{"w":"11/17/2014","s":"九州","v":-1.4}
],
"arrows": [
{"id":"a1","x":8.84,"y":28.47,"y2":23.5},{"id":"a1","x":18.14,"y":28.47,"y2":23.5},{"id":"a1","x":18.99,"y":26.0,"y2":26.0},
{"id":"a2","x":21.63,"y":28.17,"y2":23.3},{"id":"a2","x":32.29,"y":28.17,"y2":23.3},{"id":"a2","x":33.21,"y":25.73,"y2":25.73}
],
"arrowText": [
{"x":13.6,"y":26.0,"t":"消費税率5％"},
{"x":27.2,"y":25.7,"t":"消費税率8％"}
],
"callouts": [
{"id":"c1","x":1.6,"y":22.52,"y2":9.02},{"id":"c1","x":12.83,"y":22.52,"y2":9.02},{"id":"c1","x":12.84,"y":20.26,"y2":16.92},{"id":"c1","x":18.2,"y":18.37,"y2":18.37},
{"id":"c2","x":34.99,"y":19.05,"y2":5.54},{"id":"c2","x":37.74,"y":19.05,"y2":5.54},{"id":"c2","x":39.89,"y":19.05,"y2":1.14},{"id":"c2","x":41.91,"y":19.05,"y2":5.54},{"id":"c2","x":51.66,"y":19.05,"y2":5.54}
],
"calloutText": [
{"x":6.82,"y":19.7,"t":"税率変更前後で"},
{"x":7.13,"y":15.0,"t":"どの地域も増加し、"},
{"x":6.99,"y":10.7,"t":"一気に減少"},
{"x":43.32,"y":14.2,"t":"前年比減が続くが、地域に"},
{"x":43.32,"y":9.8,"t":"より増加傾向も見られる"}
]
},
"layer": [
{
"layer": [
{
"data": {"values": [{"top": 0, "bottom": -20}]},
"mark": {"type": "rect", "color": "#E6FFFF"},
"encoding": {
"y": {"field": "top", "type": "quantitative", "scale": {"domain": [-20, 30], "nice": false}, "title": null},
"y2": {"field": "bottom"}
}
},
{
"data": {"values": [{"g": -20}, {"g": -10}, {"g": 0}, {"g": 10}, {"g": 20}, {"g": 30}]},
"mark": {"type": "rule", "color": "#8C8C8C", "strokeWidth": 1.5},
"encoding": {
"y": {"field": "g", "type": "quantitative", "scale": {"domain": [-20, 30], "nice": false}, "title": null}
}
},
{
"data": {"name": "main"},
"mark": {"type": "line", "strokeJoin": "round", "strokeCap": "round"},
"encoding": {
"x": {"field": "w", "type": "ordinal", "sort": null, "bandPosition": 0.5,
"scale": {"type": "band", "paddingInner": 0, "paddingOuter": 0},
"axis": {"title": null, "labelAngle": 270, "labelFontSize": 14, "labelFont": "DejaVu Sans", "labelColor": "#333333", "tickBand": "extent", "tickSize": 6, "tickColor": "#8C8C8C", "tickWidth": 1.5, "domainColor": "#8C8C8C", "domainWidth": 1.5, "grid": false, "labelPadding": 3, "labelOverlap": false}},
"y": {"field": "v", "type": "quantitative", "scale": {"domain": [-20, 30], "nice": false}, "title": null,
"axis": {"title": null, "values": [-20, -10, 0, 10, 20, 30], "labelExpr": "datum.value + '%'", "grid": false, "domainColor": "#8C8C8C", "domainWidth": 2, "tickColor": "#8C8C8C", "tickWidth": 1.5, "tickSize": 6, "labelFontSize": 15, "labelFont": "DejaVu Sans", "labelColor": "#333333", "labelPadding": 3}},
"color": {"field": "s", "type": "nominal", "title": null,
"scale": {"domain": ["POS-CEI", "北海道", "東北", "北関東", "南関東", "北陸信越", "東海", "近畿", "中国", "四国", "九州"],
"range": ["#6600CC", "#AA4643", "#89A54E", "#F79646", "#3D96AE", "#DB843D", "#92A8CD", "#D99694", "#B5CA92", "#A99BBD", "#92CDDC"]},
"legend": {"orient": "none", "legendX": 118, "legendY": 601, "direction": "horizontal", "gridAlign": "none", "title": null, "symbolType": "stroke", "symbolSize": 3300, "symbolStrokeWidth": 4, "labelFontSize": 19, "labelFont": "Noto Sans CJK JP", "labelColor": "#333333", "columnPadding": 8, "labelOffset": 0}},
"strokeWidth": {"condition": {"test": "datum.s === 'POS-CEI'", "value": 4.5}, "value": 3}
}
}
]
},
{
"layer": [
{
"data": {"values": [{"x": 20.5}]},
"mark": {"type": "rule", "color": "#7F7F7F", "strokeWidth": 3.5, "strokeDash": [12, 7]},
"encoding": {
"x": {"field": "x", "type": "quantitative", "scale": {"domain": [-0.5, 54.5], "nice": false, "zero": false}, "axis": null}
}
},
{
"data": {"name": "arrows"},
"mark": {"type": "area", "color": "#7F7F7F", "opacity": 1},
"encoding": {
"x": {"field": "x", "type": "quantitative", "scale": {"domain": [-0.5, 54.5], "nice": false, "zero": false}, "axis": null},
"y": {"field": "y", "type": "quantitative", "stack": null, "scale": {"domain": [-20, 30], "nice": false}, "title": null},
"y2": {"field": "y2"},
"detail": {"field": "id"}
}
},
{
"data": {"name": "arrowText"},
"mark": {"type": "text", "color": "white", "fontSize": 30, "fontWeight": "bold", "font": "Noto Sans CJK JP", "align": "center", "baseline": "middle"},
"encoding": {
"x": {"field": "x", "type": "quantitative", "scale": {"domain": [-0.5, 54.5], "nice": false, "zero": false}, "axis": null},
"y": {"field": "y", "type": "quantitative", "scale": {"domain": [-20, 30], "nice": false}, "title": null},
"text": {"field": "t"}
}
},
{
"data": {"name": "callouts"},
"mark": {"type": "area", "color": "#FFC8C8", "opacity": 1},
"encoding": {
"x": {"field": "x", "type": "quantitative", "scale": {"domain": [-0.5, 54.5], "nice": false, "zero": false}, "axis": null},
"y": {"field": "y", "type": "quantitative", "stack": null, "scale": {"domain": [-20, 30], "nice": false}, "title": null},
"y2": {"field": "y2"},
"detail": {"field": "id"}
}
},
{
"data": {"name": "calloutText"},
"mark": {"type": "text", "color": "black", "fontSize": 34, "font": "Noto Sans CJK JP", "align": "center", "baseline": "middle"},
"encoding": {
"x": {"field": "x", "type": "quantitative", "scale": {"domain": [-0.5, 54.5], "nice": false, "zero": false}, "axis": null},
"y": {"field": "y", "type": "quantitative", "scale": {"domain": [-20, 30], "nice": false}, "title": null},
"text": {"field": "t"}
}
}
]
}
],
"resolve": {"scale": {"x": "independent"}}
}
